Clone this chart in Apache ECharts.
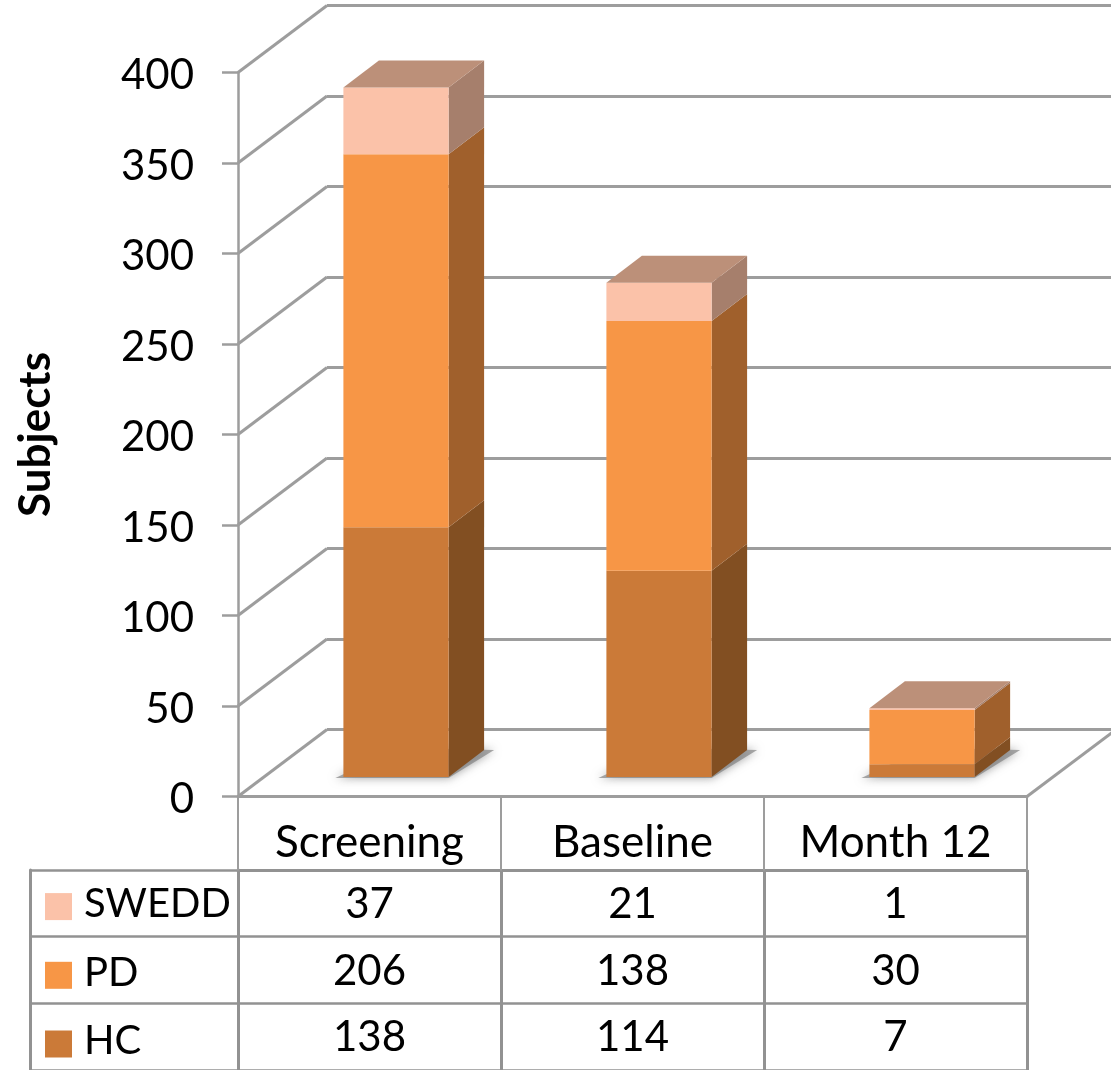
<!DOCTYPE html>
<html>
<head>
<meta charset="utf-8">
<style>html,body{margin:0;padding:0;background:#fff}#c{width:1111px;height:1070px}</style>
<script src="https://cdn.jsdelivr.net/npm/echarts@6/dist/echarts.min.js"></script>
</head>
<body>
<div id="c"></div>
<script>
const categories = ['Screening', 'Baseline', 'Month 12'];
const tableRows = ['SWEDD', 'PD', 'HC'];
const hcValues = [138, 114, 7];
const pdValues = [206, 138, 30];
const sweddValues = [37, 21, 1];
const yTicks = [0, 50, 100, 150, 200, 250, 300, 350, 400];

const FONT = 'Lato';
const LINE = '#9d9d9d';
const TABLE_LINE = '#929292';
const WALL = { dx: 89, dy: -67 };
const PLANE = { dx: 26.5, dy: -19.5 };
const DEPTH = { dx: 35.5, dy: -27 };
const TOP_FILL = '#bc9079';

const stacks = [
  { name: 'HC', values: hcValues, below: [], front: '#cb7a38', side: '#824f22' },
  { name: 'PD', values: pdValues, below: [hcValues], front: '#f79646', side: '#a0602c' },
  { name: 'SWEDD', values: sweddValues, below: [hcValues, pdValues], front: '#fbc2a9', side: '#a67f6c' }
];

function poly(points, fill, extra) {
  return { type: 'polygon', shape: { points }, style: Object.assign({ fill }, extra || {}) };
}

function barRenderer(stack, idx) {
  return function (params, api) {
    const cat = api.value(0);
    const base = stack.below.reduce((s, arr) => s + arr[cat], 0);
    const top = base + stack.values[cat];
    const centre = api.coord([cat, 0])[0] + PLANE.dx;
    const w = api.size([1, 0])[0] * 0.4;
    const xl = centre - w / 2, xr = centre + w / 2;
    const y0 = api.coord([cat, base])[1] + PLANE.dy;
    const y1 = api.coord([cat, top])[1] + PLANE.dy;
    const d = DEPTH;
    const children = [];
    if (idx === 0) {
      children.push(poly(
        [[xl - 8, y0 + 1], [xr, y0 + 1], [xr + d.dx + 10, y0 + d.dy], [xl + d.dx + 20, y0 + d.dy - 2]],
        'rgba(125,125,125,0.65)', { shadowBlur: 10, shadowColor: 'rgba(110,110,110,1)' }));
    }
    children.push(poly([[xr, y0], [xr, y1], [xr + d.dx, y1 + d.dy], [xr + d.dx, y0 + d.dy]], stack.side));
    children.push(poly([[xl, y0], [xr, y0], [xr, y1], [xl, y1]], stack.front));
    if (idx === stacks.length - 1) {
      children.push(poly([[xl, y1], [xr, y1], [xr + d.dx, y1 + d.dy], [xl + d.dx, y1 + d.dy]], TOP_FILL));
    }
    return { type: 'group', children };
  };
}

const barSeries = stacks.map((stack, idx) => ({
  name: stack.name,
  type: 'custom',
  xAxisIndex: 0,
  yAxisIndex: 0,
  z: 5 + idx,
  silent: true,
  itemStyle: { color: stack.front },
  data: stack.values.map((v, i) => [i, v]),
  encode: { x: 0, y: 1 },
  renderItem: barRenderer(stack, idx)
}));

const wallLines = {
  name: 'wall',
  type: 'custom',
  xAxisIndex: 0,
  yAxisIndex: 0,
  z: 1,
  silent: true,
  data: yTicks.map(v => [0, v]),
  encode: { x: 0, y: 1 },
  renderItem(params, api) {
    const v = api.value(1);
    const y = api.coord([0, v])[1];
    const left = params.coordSys.x;
    const style = { stroke: LINE, lineWidth: 3, fill: null };
    const children = [{ type: 'line', shape: { x1: left, y1: y, x2: left + WALL.dx, y2: y + WALL.dy }, style }];
    if (v === 0) {
      const right = left + params.coordSys.width;
      children.push({ type: 'line', shape: { x1: right, y1: y, x2: right + WALL.dx, y2: y + WALL.dy }, style });
    }
    return { type: 'group', children };
  }
};

const tableData = [];
stacks.forEach(stack => {
  stack.values.forEach((v, i) => tableData.push([i, stack.name, v]));
});

const tableText = {
  name: 'table',
  type: 'custom',
  xAxisIndex: 2,
  yAxisIndex: 2,
  z: 8,
  silent: true,
  data: tableData,
  encode: { x: 0, y: 1 },
  renderItem(params, api) {
    const p = api.coord([api.value(0), api.value(1)]);
    return {
      type: 'text',
      x: p[0],
      y: p[1] + 1,
      style: {
        text: String(tableData[params.dataIndex][2]),
        font: '42px ' + FONT,
        fill: '#000',
        align: 'center',
        verticalAlign: 'middle'
      }
    };
  }
};

const option = {
  animation: false,
  backgroundColor: '#fff',
  legend: {
    left: 45,
    top: 884.1,
    height: 400,
    orient: 'vertical',
    itemWidth: 27,
    itemHeight: 27,
    itemGap: 28.7,
    padding: 0,
    selectedMode: false,
    data: tableRows.map(name => ({ name, icon: 'rect' })),
    formatter: '{t|{name}}',
    textStyle: {
      rich: { t: { fontFamily: FONT, fontSize: 40, color: '#000', padding: [0, 0, 5, 7] } }
    }
  },
  grid: [
    { left: 238, top: 72.5, width: 789, height: 724 },
    { left: 327, top: 5.5, right: 0, height: 724 },
    { left: 238, top: 870, width: 789, height: 203 }
  ],
  xAxis: [
    {
      gridIndex: 0,
      type: 'category',
      data: categories,
      axisLine: { lineStyle: { color: LINE, width: 3 } },
      axisTick: { show: true, length: 74, lineStyle: { color: LINE, width: 2 } },
      axisLabel: { margin: 24, fontFamily: FONT, fontSize: 44, color: '#000', interval: 0, hideOverlap: false },
      splitLine: { show: false }
    },
    { gridIndex: 1, type: 'value', min: 0, max: 1, show: false },
    {
      gridIndex: 2,
      type: 'category',
      position: 'top',
      data: categories,
      axisLine: { lineStyle: { color: TABLE_LINE, width: 3 } },
      axisTick: { show: false },
      axisLabel: { show: false },
      splitLine: { show: true, interval: 0, lineStyle: { color: TABLE_LINE, width: 3 } }
    }
  ],
  yAxis: [
    {
      gridIndex: 0,
      type: 'value',
      min: 0,
      max: 400,
      interval: 50,
      name: 'Subjects',
      nameLocation: 'middle',
      nameGap: 180,
      nameRotate: 90,
      nameTextStyle: { fontFamily: FONT, fontSize: 44, fontWeight: 'bold', color: '#000' },
      axisLine: { show: true, lineStyle: { color: LINE, width: 2.5 } },
      axisTick: { show: true, length: 16, lineStyle: { color: LINE, width: 2.5 } },
      axisLabel: {
        margin: 44,
        formatter: '{t|{value}}',
        rich: { t: { fontFamily: FONT, fontSize: 42, color: '#000', padding: [6, 0, 0, 0] } }
      },
      splitLine: { show: false }
    },
    {
      gridIndex: 1,
      type: 'value',
      min: 0,
      max: 400,
      interval: 50,
      axisLine: { show: false },
      axisTick: { show: false },
      axisLabel: { show: false },
      splitLine: { show: true, lineStyle: { color: LINE, width: 3 } }
    },
    {
      gridIndex: 2,
      type: 'category',
      inverse: true,
      data: tableRows,
      axisLine: { show: true, lineStyle: { color: TABLE_LINE, width: 3 } },
      axisTick: { show: true, length: 208, lineStyle: { color: TABLE_LINE, width: 2.5 } },
      axisLabel: { show: false },
      splitLine: { show: true, interval: 0, lineStyle: { color: TABLE_LINE, width: 2.5 } }
    },
    {
      gridIndex: 2,
      type: 'category',
      inverse: true,
      position: 'left',
      offset: 208,
      data: tableRows,
      axisLine: { show: true, lineStyle: { color: TABLE_LINE, width: 3 } },
      axisTick: { show: false },
      axisLabel: { show: false },
      splitLine: { show: false }
    }
  ],
  series: [wallLines].concat(barSeries, [tableText])
};

const chart = echarts.init(document.getElementById('c'), null, { renderer: 'canvas' });
chart.setOption(option);
</script>
</body>
</html>
